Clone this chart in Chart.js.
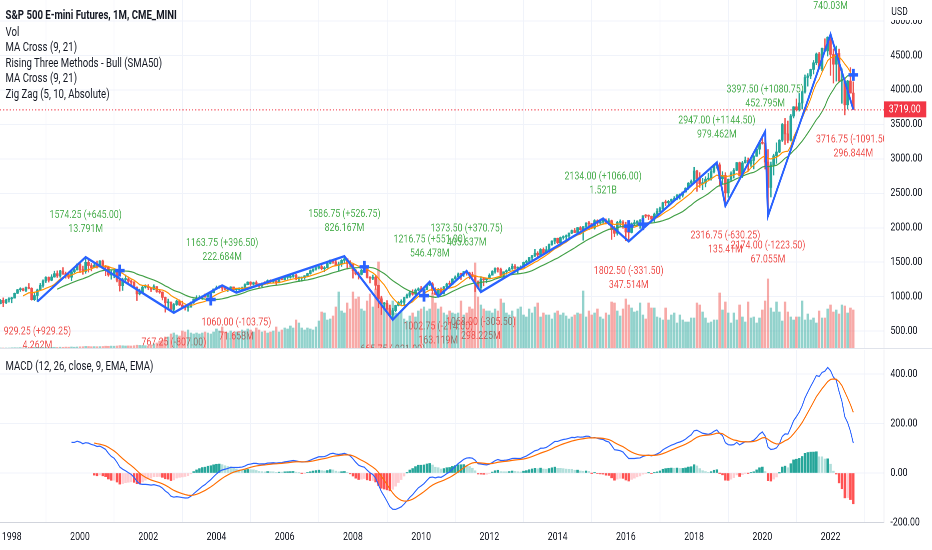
<!DOCTYPE html>
<html><head><meta charset="utf-8">
<script src="https://cdn.jsdelivr.net/npm/chart.js@4.4.0/dist/chart.umd.min.js"></script>
<style>
html,body{margin:0;padding:0;background:#fff;overflow:hidden;width:932px;height:550px;}
#wrap{position:absolute;left:0;top:0;width:1165px;height:550px;transform:scaleX(0.8);transform-origin:0 0;font-family:Roboto,"Liberation Sans",Arial,sans-serif;color:#131722;}
#top{position:absolute;left:0;top:0;}
#bot{position:absolute;left:0;top:349px;}
.sep{position:absolute;left:0;top:348px;width:1165px;height:1px;background:#e0e3eb;}
.leg{position:absolute;left:7px;font-size:12px;line-height:14px;white-space:nowrap;}
</style></head>
<body>
<div id="wrap">
  <canvas id="top" width="1165" height="349"></canvas>
  <div class="sep"></div>
  <canvas id="bot" width="1165" height="201"></canvas>
  <div class="leg" style="top:8px;font-weight:bold">S&amp;P 500 E-mini Futures, 1M, CME_MINI</div>
  <div class="leg" style="top:25px">Vol</div>
  <div class="leg" style="top:40px">MA Cross (9, 21)</div>
  <div class="leg" style="top:56px">Rising Three Methods - Bull (SMA50)</div>
  <div class="leg" style="top:71px">MA Cross (9, 21)</div>
  <div class="leg" style="top:87px">Zig Zag (5, 10, Absolute)</div>
  <div class="leg" style="top:359px">MACD (12, 26, close, 9, EMA, EMA)</div>
</div>
<script>
// ---- DATA (monthly, Sep 1997 .. Sep 2022) ----
const firstOpen = 899;
const closes = [
 947,914,955,970,
 980,1049,1102,1112,1091,1134,1121,957,1017,1099,1164,1229,
 1280,1238,1286,1335,1302,1373,1329,1320,1283,1363,1389,1469,
 1394,1366,1499,1452,1421,1455,1431,1518,1437,1429,1315,1320,
 1366,1240,1160,1249,1256,1224,1211,1134,1041,1060,1139,1148,
 1130,1107,1147,1077,1067,990,912,916,815,886,936,880,
 856,841,848,917,964,975,990,1008,996,1051,1058,1112,
 1131,1145,1126,1107,1121,1141,1102,1104,1115,1130,1174,1212,
 1181,1204,1181,1157,1192,1191,1234,1220,1229,1207,1249,1248,
 1280,1281,1295,1311,1270,1270,1277,1304,1336,1378,1401,1418,
 1438,1407,1421,1482,1531,1503,1455,1474,1527,1549,1481,1468,
 1379,1331,1323,1386,1400,1280,1267,1283,1165,969,896,903,
 826,735,798,873,919,919,987,1021,1057,1036,1096,1115,
 1074,1104,1169,1187,1089,1031,1102,1049,1141,1183,1181,1258,
 1286,1327,1326,1364,1345,1321,1292,1219,1131,1253,1247,1258,
 1312,1366,1408,1398,1310,1362,1379,1407,1441,1412,1416,1426,
 1498,1515,1569,1598,1631,1606,1686,1633,1682,1757,1806,1848,
 1783,1859,1872,1884,1924,1960,1931,2003,1972,2018,2068,2059,
 1995,2105,2068,2086,2107,2063,2104,1972,1920,2079,2080,2044,
 1940,1932,2060,2065,2097,2099,2174,2171,2168,2126,2199,2239,
 2279,2364,2363,2384,2412,2423,2470,2472,2519,2575,2648,2674,
 2824,2714,2641,2648,2705,2718,2816,2902,2914,2712,2760,2507,
 2704,2784,2834,2946,2752,2942,2980,2926,2977,3038,3141,3231,
 3226,2954,2585,2912,3044,3100,3271,3500,3363,3270,3622,3756,
 3714,3811,3973,4181,4204,4298,4395,4523,4308,4605,4567,4766,
 4516,4374,4530,4132,4132,3785,4130,3955,3719
];
const highs = [
 960,983,963,986,
 992,1053,1106,1130,1124,1141,1192,1130,1066,1110,1193,1245,
 1290,1287,1320,1370,1375,1383,1423,1357,1361,1368,1402,1478,
 1492,1444,1574.25,1540,1482,1477,1517,1525,1531,1454,1438,1390,
 1384,1377,1264,1269,1316,1288,1242,1219,1143,1110,1164,1174,
 1176,1131,1173,1148,1107,1071,994,965,925,902,951,954,
 935,864,895,924,965,1015,1015,1011,1040,1054,1063,1113,
 1155,1160,1163.75,1150,1128,1146,1141,1109,1131,1140,1187,1217,
 1218,1212,1229,1192,1199,1219,1245,1246,1243,1233,1270,1276,
 1295,1297,1310,1318,1326,1284,1286,1307,1340,1389,1407,1431,
 1441,1461,1439,1499,1535,1541,1556,1503,1539,1586.75,1553,1523,
 1471,1396,1359,1397,1440,1404,1292,1314,1304,1167,1007,918,
 944,877,832,876,930,956,993,1039,1080,1101,1113,1130,
 1150,1112,1180,1216.75,1206,1131,1120,1129,1150,1196,1227,1262,
 1303,1344,1333,1366,1373.5,1356,1356,1307,1230,1292,1277,1269,
 1333,1378,1419,1422,1415,1363,1391,1426,1474,1467,1434,1448,
 1503,1530,1570,1598,1687,1654,1698,1709,1729,1765,1813,1849,
 1850,1867,1884,1897,1924,1968,1991,2005,2019,2018,2075,2093,
 2064,2119,2117,2125,2134,2129,2133,2112,2021,2094,2116,2104,
 2081,1962,2072,2111,2103,2120,2178,2193,2187,2169,2214,2278,
 2300,2371,2401,2398,2418,2453,2484,2491,2520,2582,2657,2694,
 2878,2835,2801,2718,2742,2791,2848,2916,2947,2942,2815,2800,
 2708,2813,2860,2949,2954,2964,3027,3013,3021,3050,3154,3247,
 3337,3397.5,3136,2954,3068,3233,3279,3514,3588,3549,3645,3760,
 3870,3950,3983,4218,4238,4302,4429,4537,4546,4608,4743,4772,
 4808.25,4595,4637,4593,4307,4175,4140,4325,4119
];
const lows = [
 896,855,900,922,
 912,980,1045,1076,1085,1074,1114,950,944,929.25,1095,1137,
 1205,1212,1231,1282,1279,1282,1323,1269,1263,1233,1346,1387,
 1350,1325,1339,1357,1375,1420,1416,1431,1419,1305,1296,1254,
 1275,1215,1081,1091,1232,1203,1165,1124,944,1026,1054,1124,
 1101,1074,1101,1063,1048,953,776,838,800,767.25,873,872,
 840,806,789,847,902,963,962,960,990,994,1031,1056,
 1105,1122,1087,1101,1076,1113,1078,1060,1099,1090,1127,1173,
 1163,1170,1176,1137,1146,1188,1183,1201,1201,1168,1201,1245,
 1245,1253,1268,1280,1245,1219,1224,1253,1290,1327,1360,1385,
 1403,1389,1363,1416,1476,1484,1448,1370,1439,1489,1406,1435,
 1270,1317,1256,1316,1373,1272,1200,1247,1106,840,741,815,
 805,734,665.75,783,866,888,869,979,992,1020,1030,1086,
 1071,1044,1101,1160,1040,1028,1002.75,1040,1039,1131,1173,1177,
 1257,1284,1249,1294,1311,1259,1282,1074,1114,1068,1158,1202,
 1258,1312,1341,1357,1291,1266,1326,1378,1396,1403,1343,1398,
 1426,1485,1501,1536,1581,1560,1604,1627,1633,1646,1746,1767,
 1770,1737,1834,1814,1859,1915,1930,1904,1964,1820,2001,1972,
 1988,1980,2039,2048,2068,2056,2044,1831,1871,1893,2019,1993,
 1812,1802.5,1925,2033,2025,1991,2074,2147,2119,2097,2084,2187,
 2233,2267,2322,2329,2348,2405,2407,2417,2446,2516,2557,2605,
 2667,2529,2586,2553,2594,2698,2691,2796,2864,2603,2631,2316.75,
 2443,2681,2722,2830,2750,2728,2940,2822,2891,2855,3036,3070,
 3214,2853,2174,2447,2766,2935,3090,3252,3209,3233,3260,3594,
 3694,3694,3723,3955,4056,4164,4233,4367,4305,4279,4560,4493,
 4212,4101,4129,4124,3807,3639,3723,3954,3716.75
];
const volumes = [
 1,1,1,1,
 1.2,1.3,1.2,1.4,1.3,1.5,1.4,1.8,1.6,1.7,1.4,1.5,
 1.5,1.6,1.5,1.7,1.6,1.8,1.7,1.9,1.8,2.0,1.8,2.0,
 2.2,2.3,2.6,2.5,2.3,2.4,2.3,2.4,2.5,2.8,2.7,2.9,
 2.8,3.0,3.4,3.2,3.0,3.1,3.0,3.3,3.8,3.6,3.4,3.3,
 3,4,5,6,8,9,12,12,15,16,14,13,
 18,17,19,16,15,16,15,16,17,16,15,17,
 20,18,22,17,16,18,16,17,16,19,18,20,
 19,17,21,19,17,18,16,17,18,22,17,19,
 21,20,23,21,29,26,21,19,21,20,19,22,
 28,37,36,29,30,33,42,57,38,36,46,40,
 57,50,52,40,38,48,55,42,60,87,52,45,
 41,44,48,36,34,38,30,28,33,36,32,38,
 40,42,38,40,56,46,40,42,36,34,38,36,
 35,36,48,34,36,42,40,86,52,44,40,38,
 38,36,40,38,50,46,36,34,38,32,40,42,
 34,32,40,36,42,46,32,36,34,34,30,36,
 38,34,36,33,30,32,34,36,35,58,32,38,
 34,36,40,32,30,36,34,47,46,38,33,40,
 50,44,41,37,38,46,34,30,46,41,41,32,
 31,29,41,29,34,36,26,34,29,27,27,31,
 31,46,44,37,31,26,27,29,29,56,39,47,
 36,26,36,29,44,32,27,47,31,32,26,31,
 39,48,70,41,37,47,37,28,47,37,32,29,
 32,32,48,29,35,29,31,26,38,31,31,40,
 44,37,39,35,44,43,36,41,39
];
const yearLabels = ['1998','2000','2002','2004','2006','2008','2010','2012','2014','2016','2018','2020','2022'];
const yearTickIdx = [4,28,52,76,100,124,148,172,196,220,244,268,292];
const priceTicks = [500,1000,1500,2000,2500,3000,3500,4000,4500,5000];
const macdTicks = [-200,0,200,400];
// Zig Zag pivots (bar index, price) and their labels
const zzIdx = [13,30,61,78,83,121,138,151,154,164,169,212,221,252,255,269,270,292,300];
const zzPrice = [929.25,1574.25,767.25,1163.75,1060,1586.75,665.75,1216.75,1002.75,1373.5,1068,2134,1802.5,2947,2316.75,3397.5,2174,4808.25,3716.75];
const zzText = ['929.25 (+929.25)','1574.25 (+645.00)','767.25 (-807.00)','1163.75 (+396.50)','1060.00 (-103.75)','1586.75 (+526.75)','665.75 (-921.00)','1216.75 (+551.00)','1002.75 (-214.00)','1373.50 (+370.75)','1068.00 (-305.50)','2134.00 (+1066.00)','1802.50 (-331.50)','2947.00 (+1144.50)','2316.75 (-630.25)','3397.50 (+1080.75)','2174.00 (-1223.50)','4808.25 (+2634.25)','3716.75 (-1091.50)'];
const zzVol = ['4.262M','13.791M','','222.684M','71.658M','826.167M','','546.478M','163.119M','405.637M','298.225M','1.521B','347.514M','979.462M','135.41M','452.795M','67.055M','740.03M','296.844M'];

// ---- derived series ----
const N = closes.length;
const opens = closes.map((c,i)=> i===0 ? firstOpen : closes[i-1]);
const up = closes.map((c,i)=> c >= opens[i]);
function sma(arr,n){return arr.map((v,i)=>{if(i<n-1)return null;let s=0;for(let k=i-n+1;k<=i;k++)s+=arr[k];return s/n;});}
function ema(arr,n){const out=new Array(arr.length).fill(null);const st=arr.findIndex(v=>v!=null);if(st<0||st+n>arr.length)return out;let s=0;for(let k=st;k<st+n;k++)s+=arr[k];let p=s/n;out[st+n-1]=p;const a=2/(n+1);for(let k=st+n;k<arr.length;k++){p=a*arr[k]+(1-a)*p;out[k]=p;}return out;}
const sma9 = sma(closes,9), sma21 = sma(closes,21);
const e12 = ema(closes,12), e26 = ema(closes,26);
const macd = closes.map((c,i)=> (e12[i]!=null&&e26[i]!=null)? e12[i]-e26[i] : null);
const signal = ema(macd,9);
const hist = macd.map((m,i)=> (m!=null&&signal[i]!=null)? m-signal[i] : null);
const crosses = [];
for(let i=1;i<N;i++){ if(sma9[i-1]!=null&&sma21[i-1]!=null){ const a=sma9[i-1]-sma21[i-1], b=sma9[i]-sma21[i]; if((a<0&&b>=0)||(a>0&&b<=0)) crosses.push({x:i,y:sma21[i]}); } }

const UP='#26a69a', DN='#ef5350', GRID='#f0f3fa';
const FONT='Roboto, "Liberation Sans", Arial, sans-serif';
Chart.defaults.font.family = FONT;
Chart.defaults.font.size = 11;
Chart.defaults.color = '#131722';

const setYearTicks = s => { s.ticks = yearTickIdx.map(v=>({value:v})); };
const noPad = s => { s.paddingTop = 0; s.paddingBottom = 0; s.paddingLeft = 0; s.paddingRight = 0; };

const topPlugin = {
  id:'topDecor',
  beforeDatasetsDraw(chart){
    const {ctx, chartArea:a, scales:{x,y}} = chart;
    ctx.save();
    ctx.beginPath(); ctx.rect(a.left,a.top,a.right-a.left,a.bottom-a.top); ctx.clip();
    ctx.font = '11px '+FONT; ctx.textAlign='center'; ctx.textBaseline='middle';
    zzIdx.forEach((idx,k)=>{
      const px=x.getPixelForValue(idx), py=y.getPixelForValue(zzPrice[k]);
      const high = zzPrice[k] > (k>0 ? zzPrice[k-1] : zzPrice[k+1]);
      ctx.fillStyle = high ? '#4caf50' : '#ef5350';
      const y1 = high ? py-42 : py+30;
      ctx.fillText(zzText[k], px, y1);
      if(zzVol[k]) ctx.fillText(zzVol[k], px, y1+14);
    });
    ctx.restore();
  },
  afterDraw(chart){
    const {ctx, chartArea:a, scales:{y}} = chart;
    const last = closes[N-1], py = y.getPixelForValue(last);
    ctx.save();
    ctx.strokeStyle='#f23645'; ctx.lineWidth=1; ctx.setLineDash([1.5,2.5]);
    ctx.beginPath(); ctx.moveTo(a.left,py+0.5); ctx.lineTo(a.right,py+0.5); ctx.stroke();
    ctx.setLineDash([]);
    ctx.fillStyle='#fff'; ctx.fillRect(a.right+1,0,70,20);
    ctx.fillStyle='#131722'; ctx.font='11px '+FONT; ctx.textAlign='left'; ctx.textBaseline='middle';
    ctx.fillText('USD', a.right+9, 12);
    ctx.fillStyle='#f23645'; ctx.fillRect(a.right,py-8,53,16);
    ctx.fillStyle='#fff'; ctx.fillText(last.toFixed(2), a.right+6, py+0.5);
    ctx.restore();
  }
};

new Chart(document.getElementById('top'), {
  type:'bar',
  data:{ datasets:[
    {type:'bar', yAxisID:'yv', order:10, grouped:false, barThickness:2.4,
     data: volumes.map((v,i)=>({x:i,y:v})),
     backgroundColor: up.map(u=> u?'rgba(38,166,154,0.5)':'rgba(239,83,80,0.5)')},
    {type:'bar', yAxisID:'y', order:9, grouped:false, barThickness:1.1,
     data: closes.map((c,i)=>({x:i,y:[lows[i],highs[i]]})),
     backgroundColor: up.map(u=> u?UP:DN)},
    {type:'bar', yAxisID:'y', order:8, grouped:false, barThickness:2.6, minBarLength:1,
     data: closes.map((c,i)=>({x:i,y:[opens[i],c]})),
     backgroundColor: up.map(u=> u?UP:DN)},
    {type:'line', yAxisID:'y', order:6, data: sma21.map((v,i)=>({x:i,y:v})),
     borderColor:'#43a047', borderWidth:1.2, pointRadius:0, tension:0},
    {type:'line', yAxisID:'y', order:5, data: sma9.map((v,i)=>({x:i,y:v})),
     borderColor:'#ff9100', borderWidth:1.2, pointRadius:0, tension:0},
    {type:'line', yAxisID:'y', order:4, data: zzIdx.map((v,k)=>({x:v,y:zzPrice[k]})),
     borderColor:'#2962ff', borderWidth:2.4, pointRadius:0, tension:0},
    {type:'line', yAxisID:'y', order:1, data: crosses, showLine:false,
     pointStyle:'cross', pointRadius:6, pointBorderWidth:3.5, pointBorderColor:'#2962ff', pointBackgroundColor:'#2962ff'}
  ]},
  options:{
    responsive:false, animation:false, devicePixelRatio:2, events:[],
    layout:{padding:0, autoPadding:false},
    plugins:{legend:{display:false}, tooltip:{enabled:false}},
    scales:{
      x:{type:'linear', min:-0.14, max:310.8, offset:false, afterBuildTicks:setYearTicks,
         ticks:{display:false}, grid:{color:GRID, drawTicks:false}, border:{display:false},
         afterFit:s=>{s.height=0; noPad(s);}},
      y:{type:'linear', position:'right', min:241, max:5306,
         afterBuildTicks:s=>{s.ticks=priceTicks.map(v=>({value:v}));},
         afterFit:s=>{s.width=60; noPad(s);},
         ticks:{padding:8, callback:v=>Number(v).toFixed(2)},
         grid:{color:GRID, drawTicks:false}, border:{display:true, color:'#e0e3eb'}},
      yv:{type:'linear', display:false, min:0, max:349, ticks:{display:false},
          afterFit:s=>{s.width=0; noPad(s);}}
    }
  },
  plugins:[topPlugin]
});

new Chart(document.getElementById('bot'), {
  type:'bar',
  data:{ datasets:[
    {type:'bar', order:3, grouped:false, barThickness:2.4,
     data: hist.map((h,i)=>({x:i,y:h})),
     backgroundColor: hist.map((h,i)=>{ const p = hist[i-1]; if(h==null) return 'rgba(0,0,0,0)';
       if(h>=0) return (p!=null && p<h) ? '#26a69a' : '#b2dfdb';
       return (p!=null && p<h) ? '#ffcdd2' : '#ff5252'; })},
    {type:'line', order:2, data: macd.map((v,i)=>({x:i,y:v})), borderColor:'#2962ff', borderWidth:1.2, pointRadius:0, tension:0},
    {type:'line', order:1, data: signal.map((v,i)=>({x:i,y:v})), borderColor:'#ff6d00', borderWidth:1.2, pointRadius:0, tension:0}
  ]},
  options:{
    responsive:false, animation:false, devicePixelRatio:2, events:[],
    layout:{padding:{top:1,left:0,right:0,bottom:0}, autoPadding:false},
    plugins:{legend:{display:false}, tooltip:{enabled:false}},
    scales:{
      x:{type:'linear', min:-0.14, max:310.8, offset:false, afterBuildTicks:setYearTicks,
         ticks:{display:true, padding:8, maxRotation:0, autoSkip:false, callback:(v,i)=>yearLabels[i]},
         grid:{color:GRID, drawTicks:false}, border:{display:true, color:'#d1d4dc'},
         afterFit:s=>{s.height=27.5; noPad(s);}},
      y:{type:'linear', position:'right', min:-200, max:497,
         afterBuildTicks:s=>{s.ticks=macdTicks.map(v=>({value:v}));},
         afterFit:s=>{s.width=60; noPad(s);},
         ticks:{padding:8, callback:v=>Number(v).toFixed(2)},
         grid:{color:GRID, drawTicks:false}, border:{display:true, color:'#e0e3eb'}}
    }
  }
});
</script>
</body></html>
